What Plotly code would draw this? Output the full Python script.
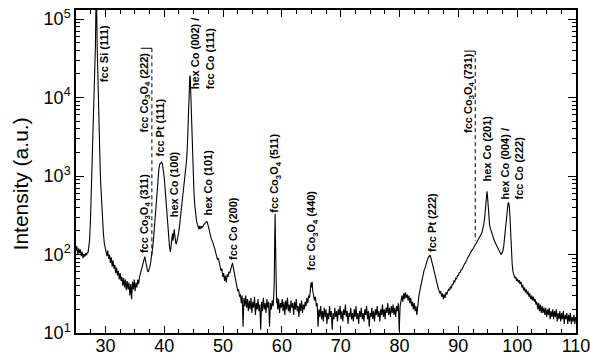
import plotly.graph_objects as go

# ---------------- data ----------------
two_theta = [
    25.0, 25.15, 25.3, 25.45, 25.6, 25.75, 25.9, 26.05, 26.2, 26.35, 26.5, 26.65, 26.8, 26.95,
    27.05, 27.15, 27.3, 27.45, 27.55, 27.65, 27.75, 27.9, 28.05, 28.2, 28.3, 28.4, 28.5, 28.6,
    28.7, 28.8, 28.9, 29.0, 29.1, 29.2, 29.35, 29.5, 29.65, 29.8, 29.95,
    30.1, 30.25, 30.4, 30.55, 30.7, 30.85, 31.0, 31.15, 31.3, 31.45, 31.6, 31.75, 31.9, 32.05,
    32.2, 32.35, 32.5, 32.65, 32.8, 32.95, 33.1, 33.25, 33.4, 33.55, 33.7, 33.85, 34.0, 34.15,
    34.3, 34.45, 34.6, 34.75, 34.9, 35.05, 35.2, 35.35, 35.5, 35.65, 35.8,
    35.95, 36.1, 36.25, 36.4, 36.55, 36.7, 36.85, 37.0, 37.15, 37.3,
    37.45, 37.6, 37.75, 37.9, 38.05, 38.2, 38.35, 38.5, 38.65, 38.8, 38.95, 39.1, 39.25, 39.4,
    39.55, 39.7, 39.85, 40.0, 40.15, 40.3, 40.45, 40.6, 40.75, 40.9, 41.05,
    41.15, 41.3, 41.4, 41.5, 41.6, 41.7, 41.8, 41.9, 42.0, 42.1, 42.2,
    42.3, 42.45, 42.6, 42.75, 42.9, 43.05, 43.2, 43.35, 43.5, 43.65, 43.8, 43.95, 44.05, 44.15,
    44.25, 44.35, 44.42, 44.5, 44.6, 44.7, 44.8, 44.9, 45.05, 45.2, 45.35, 45.5, 45.65,
    45.8, 45.9, 46.0, 46.1, 46.2, 46.3, 46.4, 46.5, 46.65, 46.8, 46.95, 47.1, 47.25,
    47.4, 47.55, 47.7, 47.85, 48.0, 48.15, 48.3, 48.45, 48.6, 48.75, 48.9, 49.05, 49.2, 49.35,
    49.5, 49.65, 49.8, 49.95, 50.1, 50.25, 50.4, 50.55, 50.7, 50.85, 51.0, 51.15, 51.3, 51.45,
    51.6, 51.75, 51.9, 52.05, 52.2, 52.35, 52.5, 52.65, 52.8, 52.95, 53.1, 53.25, 53.4, 53.55,
    53.7, 53.85, 54.0,
    54.15, 54.3, 54.45, 54.6, 54.75, 54.9, 55.05, 55.2, 55.35, 55.5, 55.65, 55.8, 55.95, 56.1,
    56.25, 56.4, 56.55, 56.7, 56.85, 57.0, 57.15, 57.3, 57.45, 57.6, 57.75, 57.9, 58.05, 58.2,
    58.35, 58.5, 58.62, 58.7, 58.78, 58.85, 58.92, 59.0, 59.1,
    59.2, 59.3, 59.45, 59.6, 59.75, 59.9, 60.05, 60.2, 60.35, 60.5, 60.65, 60.8, 60.95, 61.1,
    61.25, 61.4, 61.55, 61.7, 61.85, 62.0, 62.15, 62.3, 62.45, 62.6, 62.75, 62.9, 63.05, 63.2,
    63.35, 63.5, 63.65, 63.8, 63.95, 64.1, 64.25, 64.4, 64.55, 64.7, 64.85, 64.95, 65.05, 65.15,
    65.25, 65.4, 65.55, 65.7, 65.85, 66.0,
    66.15, 66.3, 66.45, 66.6, 66.75, 66.9, 67.05, 67.2, 67.35, 67.5, 67.65, 67.8, 67.95, 68.1,
    68.25, 68.4, 68.55, 68.7, 68.85, 69.0, 69.15, 69.3, 69.45, 69.6, 69.75, 69.9, 70.05, 70.2,
    70.35, 70.5, 70.65, 70.8, 70.95, 71.1, 71.25, 71.4, 71.55, 71.7, 71.85, 72.0, 72.15, 72.3,
    72.45, 72.6, 72.75, 72.9, 73.05, 73.2, 73.35, 73.5, 73.65, 73.8, 73.95, 74.1, 74.25, 74.4,
    74.55, 74.7, 74.85, 75.0, 75.15, 75.3, 75.45, 75.6, 75.75, 75.9, 76.05, 76.2, 76.35, 76.5,
    76.65, 76.8, 76.95, 77.1, 77.25, 77.4, 77.55, 77.7, 77.85, 78.0, 78.15, 78.3, 78.45, 78.6,
    78.75, 78.9, 79.05, 79.2, 79.35, 79.5, 79.65, 79.8, 79.95, 80.1,
    80.25, 80.4, 80.55, 80.7, 80.85, 81.0, 81.15, 81.3, 81.45, 81.6, 81.75, 81.9, 82.05, 82.2,
    82.35, 82.5, 82.65, 82.8, 82.95, 83.1, 83.25, 83.4, 83.55, 83.7, 83.85, 84.0, 84.15, 84.3,
    84.45, 84.6, 84.75, 84.9, 85.05, 85.2, 85.35, 85.5, 85.65, 85.8, 85.95, 86.1, 86.25, 86.4,
    86.55, 86.7, 86.85, 87.0, 87.15, 87.3, 87.45, 87.6, 87.75, 87.9, 88.05,
    88.2, 88.35, 88.5, 88.65, 88.8, 88.95, 89.1, 89.25, 89.4, 89.55, 89.7, 89.85, 90.0, 90.15,
    90.3, 90.45, 90.6, 90.75, 90.9, 91.05, 91.2, 91.35, 91.5, 91.65, 91.8, 91.95, 92.1, 92.25,
    92.4, 92.55, 92.7, 92.85, 93.0, 93.15, 93.3, 93.45, 93.6, 93.75, 93.9, 94.05, 94.2, 94.35,
    94.5, 94.6, 94.7, 94.8, 94.87, 94.95, 95.05, 95.15, 95.3, 95.45, 95.6, 95.75, 95.9, 96.05,
    96.2, 96.35, 96.5, 96.65, 96.8, 96.95, 97.1, 97.25, 97.4, 97.55, 97.7, 97.85, 98.0, 98.15,
    98.3, 98.45, 98.55, 98.65, 98.75, 98.85, 98.95, 99.05, 99.15, 99.3,
    99.45, 99.6, 99.75, 99.9, 100.05, 100.2, 100.35, 100.5, 100.65, 100.8, 100.95, 101.1, 101.25,
    101.4, 101.55, 101.7, 101.85, 102.0, 102.15, 102.3, 102.45, 102.6, 102.75, 102.9, 103.05,
    103.2, 103.35, 103.5, 103.65, 103.8, 103.95, 104.1, 104.25, 104.4, 104.55, 104.7, 104.85,
    105.0, 105.15, 105.3, 105.45, 105.6, 105.75, 105.9, 106.05, 106.2, 106.35, 106.5, 106.65,
    106.8, 106.95, 107.1, 107.25, 107.4, 107.55, 107.7, 107.85, 108.0, 108.15, 108.3, 108.45,
    108.6, 108.75, 108.9, 109.05, 109.2, 109.35, 109.5, 109.65, 109.8, 109.95,
]

intensity = [
    112, 128, 98, 120, 104, 116, 95, 108, 90, 102, 94, 104, 98, 108,
    105, 118, 150, 260, 450, 900, 1600, 3500, 8000, 20000, 45000, 160000, 160000, 45000,
    18000, 8500, 4500, 2400, 1300, 800, 450, 280, 190, 140, 118,
    108, 96, 112, 88, 100, 78, 92, 70, 84, 66, 74, 58, 68, 54,
    62, 48, 58, 46, 52, 40, 50, 38, 48, 35, 46, 36, 44, 30,
    42, 27, 45, 36, 48, 34, 44, 38, 48, 42, 52,
    58, 64, 72, 80, 90, 94, 82, 68, 62, 60,
    64, 72, 85, 100, 125, 165, 230, 330, 480, 700, 980, 1250, 1420, 1490,
    1500, 1420, 1230, 950, 680, 460, 310, 215, 160, 125, 108,
    125, 165, 185, 150, 190, 210, 175, 150, 135, 140, 150,
    165, 190, 230, 290, 370, 480, 620, 780, 950, 1150, 1600, 2600, 4200, 8000,
    14000, 19000, 18500, 12000, 7000, 3500, 1700, 1000, 620, 420, 320, 265, 240,
    225, 210, 232, 212, 228, 215, 230, 220, 235, 240, 252, 258, 262,
    245, 215, 190, 170, 158, 150, 140, 130, 118, 106, 96, 86, 90, 74,
    70, 62, 66, 52, 58, 46, 54, 44, 56, 52, 60, 58, 66, 72,
    78, 68, 58, 50, 44, 40, 34, 36, 29, 31, 24, 30, 12, 28,
    22, 30, 21,
    27, 19, 26, 20, 28, 18, 25, 21, 29, 17, 24, 20, 27, 19,
    23, 11, 25, 19, 28, 20, 24, 18, 27, 21, 25, 12, 24, 20,
    26, 22, 30, 45, 150, 330, 140, 35, 24,
    28, 20, 27, 18, 24, 21, 27, 19, 25, 17, 26, 20, 28, 19,
    23, 18, 26, 21, 24, 17, 25, 20, 27, 19, 22, 16, 24, 19,
    26, 18, 23, 20, 25, 22, 28, 24, 30, 28, 36, 44, 38, 45,
    34, 30, 26, 29, 22, 24,
    12, 20, 16, 22, 15, 19, 14, 21, 16, 20, 13, 18, 15, 22,
    16, 19, 11, 18, 15, 21, 16, 19, 14, 20, 17, 22, 15, 19,
    14, 20, 17, 23, 16, 19, 13, 18, 16, 21, 15, 18, 14, 20,
    16, 22, 15, 18, 13, 19, 16, 21, 15, 18, 14, 20, 17, 22,
    15, 19, 12, 18, 16, 21, 15, 19, 14, 20, 17, 22, 16, 19,
    14, 20, 17, 23, 16, 20, 15, 21, 18, 24, 17, 21, 16, 22,
    18, 23, 17, 21, 16, 22, 19, 24, 10.5, 22,
    26, 30, 25, 32, 27, 33, 28, 31, 26, 30, 24, 28, 22, 25,
    20, 24, 19, 22, 17, 24, 28, 33, 38, 43, 50, 55, 62, 66,
    74, 80, 86, 92, 96, 98, 90, 80, 70, 62, 55, 50, 45, 41,
    38, 35, 32, 34, 29, 32, 27, 31, 28, 33, 31,
    34, 36, 35, 39, 37, 42, 41, 46, 45, 50, 49, 54, 54, 59,
    59, 64, 64, 69, 70, 76, 78, 84, 88, 93, 96, 102, 106, 112,
    115, 120, 126, 132, 138, 145, 150, 158, 165, 172, 182, 195, 215, 250,
    310, 400, 500, 600, 640, 560, 400, 300, 240, 215, 195, 180, 165, 155,
    145, 138, 130, 122, 115, 110, 105, 100, 104, 110, 125, 160, 220, 300,
    390, 450, 460, 420, 330, 220, 140, 95, 75, 60,
    55, 50, 52, 46, 49, 44, 47, 42, 45, 38, 41, 35, 38,
    33, 36, 31, 34, 29, 32, 27, 30, 26, 29, 25, 27,
    23, 25, 20, 24, 19, 23, 18, 22, 18, 21, 17, 21,
    16, 20, 17, 21, 15, 19, 16, 20, 15, 19, 16, 20,
    14, 18, 15, 19, 14, 18, 15, 19, 13, 17, 15, 18,
    13, 17, 14, 18, 13, 16, 14, 17, 13, 16,
]

# peak labels: text, x position of label, log10 of label bottom
label_text = [
    "fcc Si (111)",
    "fcc Co<sub>3</sub>O<sub>4</sub> (222)",
    "fcc Pt (111)",
    "fcc Co<sub>3</sub>O<sub>4</sub> (311)",
    "hex Co (100)",
    "hex Co (002) /<br>fcc Co (111)",
    "hex Co (101)",
    "fcc Co (200)",
    "fcc Co<sub>3</sub>O<sub>4</sub> (511)",
    "fcc Co<sub>3</sub>O<sub>4</sub> (440)",
    "fcc Pt (222)",
    "fcc Co<sub>3</sub>O<sub>4</sub> (731)",
    "hex Co (201)",
    "hex Co (004) /<br>fcc Co (222)",
]
label_x = [29.8, 36.7, 39.25, 36.7, 41.8, 46.55, 47.4, 51.8, 58.93, 65.2, 85.6, 91.7, 94.9, 99.15]
label_logy = [4.18, 3.54, 3.235, 2.01, 2.46, 4.09, 2.48, 1.92, 2.52, 1.79, 2.02, 3.54, 2.92, 2.69]

# dashed marker lines for hidden reflections
marker_x_left = [36.0, 91.0]
marker_x_line = [37.9, 92.87]
marker_top = [42400, 39000]
marker_bottom = [96, 150]

x_ticks = [30, 40, 50, 60, 70, 80, 90, 100, 110]
y_ticks = [10, 100, 1000, 10000, 100000]
y_ticktext = ["10<sup>1</sup>", "10<sup>2</sup>", "10<sup>3</sup>", "10<sup>4</sup>", "10<sup>5</sup>"]

# ---------------- figure ----------------
fig = go.Figure()
fig.add_trace(go.Scatter(x=two_theta, y=intensity, mode="lines",
                         line=dict(color="black", width=1.1), showlegend=False,
                         hoverinfo="skip"))

for xl, xd, yt, yb in zip(marker_x_left, marker_x_line, marker_top, marker_bottom):
    fig.add_trace(go.Scatter(x=[xl, xd], y=[yt, yt], mode="lines",
                             line=dict(color="black", width=1), showlegend=False, hoverinfo="skip"))
    fig.add_trace(go.Scatter(x=[xd, xd], y=[yt, yb], mode="lines",
                             line=dict(color="black", width=1, dash="4px,3px"),
                             showlegend=False, hoverinfo="skip"))

for t, xx, ly in zip(label_text, label_x, label_logy):
    fig.add_annotation(x=xx, y=ly, xref="x", yref="y", text="<b>" + t + "</b>",
                       textangle=-90, showarrow=False, xanchor="center", yanchor="bottom",
                       align="left", borderpad=0,
                       font=dict(family="Liberation Sans, Arial", size=11, color="black"))

fig.add_annotation(x=-0.112, y=0.46, xref="paper", yref="paper", text="Intensity (a.u.)",
                   textangle=-90, showarrow=False, xanchor="center", yanchor="middle",
                   font=dict(family="Liberation Sans, Arial", size=21, color="black"))

minor_y = [m * 10 ** k for k in range(1, 5) for m in range(2, 10)]

fig.update_xaxes(range=[25, 110], tickmode="array", tickvals=x_ticks,
                 ticks="inside", ticklen=7, tickwidth=1, tickcolor="black",
                 showline=True, linecolor="black", linewidth=1.5, mirror="ticks",
                 showgrid=False, zeroline=False, ticklabelstandoff=-4,
                 ticklabeloverflow="allow",
                 minor=dict(ticks="inside", ticklen=4, tickwidth=1, tickcolor="black",
                            dtick=2.5, tick0=25, showgrid=False),
                 tickfont=dict(family="Liberation Sans, Arial", size=18, color="black"))
fig.update_yaxes(type="log", range=[1, 5.115], tickmode="array", tickvals=y_ticks,
                 ticktext=y_ticktext,
                 ticks="inside", ticklen=8, tickwidth=1, tickcolor="black",
                 showline=True, linecolor="black", linewidth=1.5, mirror="ticks",
                 showgrid=False, zeroline=False, ticklabeloverflow="allow",
                 minor=dict(ticks="inside", ticklen=4, tickwidth=1, tickcolor="black",
                            tickmode="array", tickvals=minor_y, showgrid=False),
                 tickfont=dict(family="Liberation Sans, Arial", size=18, color="black"))

fig.update_layout(width=590, height=355, margin=dict(l=76, r=14, t=10, b=22, autoexpand=False),
                  paper_bgcolor="white", plot_bgcolor="white")

fig.write_html("out.html")
